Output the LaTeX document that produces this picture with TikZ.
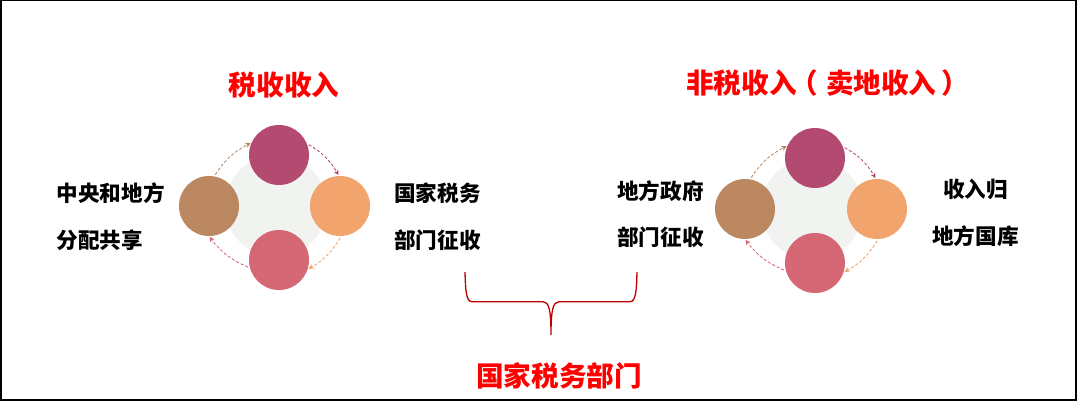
\documentclass[tikz,border=0pt]{standalone}
\usepackage{fontspec}
\setmainfont{Noto Sans CJK SC}
\usetikzlibrary{arrows.meta}
\definecolor{plum}{HTML}{B0416A}
\definecolor{apricot}{HTML}{F2A066}
\definecolor{rose}{HTML}{D45F6E}
\definecolor{tan}{HTML}{B8825A}
\definecolor{palegrey}{HTML}{F1F3F1}
\definecolor{bracered}{HTML}{C00000}
\tikzset{
    ball/.style={circle, minimum size=60pt, inner sep=0pt, fill opacity=0.95},
    hub/.style={circle, fill=palegrey, minimum size=102pt, inner sep=0pt},
    cyc/.style={densely dashed, line width=0.8pt, -{Stealth[length=5pt,width=5pt]}, shorten >=1pt, shorten <=2pt},
    tag/.style={font=\bfseries\fontsize{21.6}{21.6}\selectfont, anchor=west, inner sep=0pt},
    head/.style={font=\bfseries\fontsize{27.6}{27.6}\selectfont, text=red, inner sep=0pt}
}
\begin{document}
\begin{tikzpicture}[x=1pt, y=-1pt]
    \useasboundingbox (0,0) rectangle (1077,401);
    \fill[white] (0,0) rectangle (1077,401);
    \draw[line width=2pt] (0.5,0.5) rectangle (1076,400);

    % left group
    \node[hub] (G1) at (276,206) {};
    \node[ball, fill=plum] (A1) at (279,155) {};
    \node[ball, fill=rose, below of=A1, node distance=105pt] (C1) {};
    \node[ball, fill=apricot] (B1) at (340,206) {};
    \node[ball, fill=tan, left of=B1, node distance=131pt] (D1) {};
    \draw[cyc, plum] (A1.22) to[bend left=15] (B1.92);
    \draw[cyc, apricot] (B1.-88) to[bend left=15] (C1.-18);
    \draw[cyc, rose] (C1.-165) to[bend left=15] (D1.-90);
    \draw[cyc, tan] (D1.80) to[bend left=15] (A1.156);

    % right group
    \node[hub] (G2) at (812,209) {};
    \node[ball, fill=plum] (A2) at (815,158) {};
    \node[ball, fill=rose, below of=A2, node distance=105pt] (C2) {};
    \node[ball, fill=apricot] (B2) at (877,209) {};
    \node[ball, fill=tan, left of=B2, node distance=132pt] (D2) {};
    \draw[cyc, plum] (A2.22) to[bend left=15] (B2.92);
    \draw[cyc, apricot] (B2.-88) to[bend left=15] (C2.-18);
    \draw[cyc, rose] (C2.-165) to[bend left=15] (D2.-90);
    \draw[cyc, tan] (D2.80) to[bend left=15] (A2.156);

    % titles
    \node[head] (T1) at (284,85) {税收收入};
    \node[head, anchor=west] (T2) at (686,83) {非税收入\kern-6pt（\kern8pt卖地收入\kern5pt）};
    \node[head] (T3) at (559,376) {国家税务部门};

    % labels
    \node[tag] (L1) at (56.5,193) {中央和地方};
    \node[tag] (L2) at (56.5,240) {分配共享};
    \node[tag] (L3) at (394,193) {国家税务};
    \node[tag] (L4) at (394,240) {部门征收};
    \node[tag] (L5) at (617,191) {地方政府};
    \node[tag] (L6) at (617,237) {部门征收};
    \node[tag] (L7) at (943,189) {收入归};
    \node[tag] (L8) at (932,236) {地方国库};

    % brace
    \draw[bracered, line width=1.3pt] (465,272) .. controls (465.5,290) and (466,301.7) .. (472,301.7)
        -- (543,301.7) .. controls (549,301.7) and (551,310) .. (551,335)
        .. controls (551,310) and (553,301.7) .. (559,301.7)
        -- (630,301.7) .. controls (636,301.7) and (636.5,290) .. (637,272);
\end{tikzpicture}
\end{document}
